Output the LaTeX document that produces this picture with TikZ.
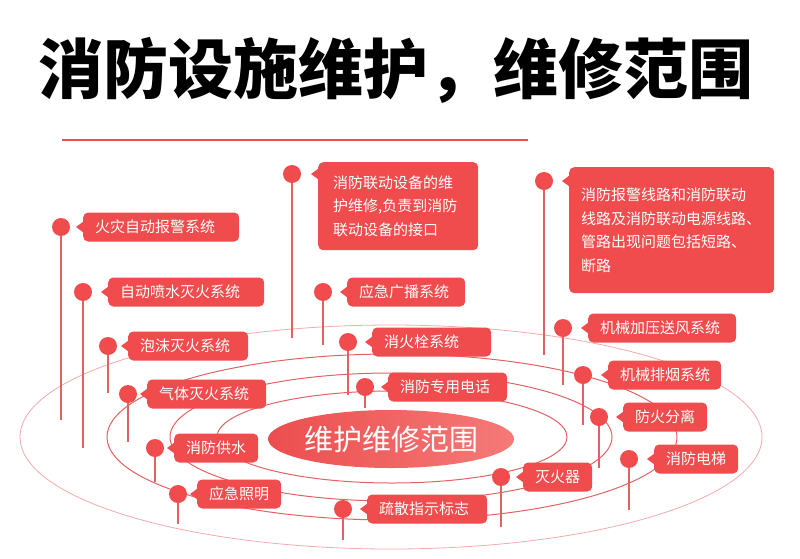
\documentclass[tikz,border=0pt]{standalone}
\usepackage{tikz}
\usepackage{xcolor}
\usepackage{fontspec}
\usetikzlibrary{shapes.geometric}
\newfontfamily\cjk{Noto Sans CJK SC}
\definecolor{tagred}{RGB}{240,76,78}
\definecolor{ringred}{RGB}{226,98,98}
\definecolor{ringpink}{RGB}{243,170,170}
\definecolor{hubleft}{RGB}{236,78,78}
\definecolor{hubright}{RGB}{245,122,120}

\begin{document}
\begin{tikzpicture}[x=1pt,y=-1pt,
    tag/.style={fill=tagred,text=white,rounded corners=5pt,font=\cjk\fontsize{15}{23.5}\selectfont,
        inner xsep=12pt,inner ysep=0pt,minimum height=29pt,align=left,anchor=west},
    dot/.style={circle,fill=tagred,minimum size=18pt,inner sep=0pt},
    stem/.style={ringred,line width=1.3pt},
    ring/.style={ringred,line width=1pt},
    hub/.style={ellipse,left color=hubleft,right color=hubright,text=white,inner sep=0pt,
        minimum width=232pt,minimum height=58pt,font=\cjk\fontsize{29}{29}\selectfont}]
    \useasboundingbox (0,0) rectangle (800,558);

    \node[font=\cjk\bfseries\fontsize{65}{65}\selectfont] (title) at (396,70) {消防设施维护，维修范围};
    \draw[tagred,line width=2pt] (62,140) -- (528,140);

    \draw[ringpink,line width=0.8pt] (391,437) ellipse (371pt and 112pt);
    \draw[ring] (392,437) ellipse (285pt and 83pt);
    \draw[ring] (391,437) ellipse (221pt and 64pt);
    \draw[ring] (392,437) ellipse (175pt and 46pt);

    \foreach \n/\x/\y/\e/\bx/\w/\t [evaluate=\w as \tw using \w-24] in {
        alarm/61/227/420/83/156/火灾自动报警系统,
        sprinkler/83/292/448/108/156/自动喷水灭火系统,
        foam/108/346/393/128/120/泡沫灭火系统,
        gas/128/394/442/147/119/气体灭火系统,
        water/155/448/482/174/84/消防供水,
        light/178/494/524/197/84/应急照明,
        broadcast/323/292/345/347/118/应急广播系统,
        hydrant/348/342/395/372/119/消火栓系统,
        phone/365/387/408/388/119/消防专用电话,
        exit/343/509/540/367/120/疏散指示标志,
        extinguisher/501/477/527/523/69/灭火器,
        pressure/563/328/385/588/148/机械加压送风系统,
        smoke/583/375/425/608/113/机械排烟系统,
        partition/599/417/468/623/84/防火分离,
        lift/629/459/510/654/84/消防电梯}
    {
        \coordinate (\n-end) at (\x,\e);
        \draw[stem] (\x,\y) -- (\n-end);
        \node[dot] (\n) at (\x,\y) {};
        \node[tag,text width=\tw pt] (\n-box) at (\bx,\y) {\t};
        \fill[tagred] (\n -| \n-box.west) ++(0.5,-5.5) -- ++(-7.5,5.5) -- ++(7.5,5.5) -- cycle;
    }

    \coordinate (link-end) at (292,338);
    \draw[stem] (292,174) -- (link-end);
    \node[dot] (link) at (292,174) {};
    \node[tag,anchor=north west,text width=130pt,inner xsep=15pt,minimum height=88pt] (link-box) at (318,162)
        {消防联动设备的维\\护维修,负责到消防\\联动设备的接口};
    \fill[tagred] (link -| link-box.west) ++(0.5,-5.5) -- ++(-7.5,5.5) -- ++(7.5,5.5) -- cycle;

    \coordinate (wire-end) at (544,355);
    \draw[stem] (544,181) -- (wire-end);
    \node[dot] (wire) at (544,181) {};
    \node[tag,anchor=north west,text width=181pt,inner xsep=12pt,minimum height=126pt] (wire-box) at (569,167)
        {消防报警线路和消防联动\\线路及消防联动电源线路、\\管路出现问题包括短路、\\断路};
    \fill[tagred] (wire -| wire-box.west) ++(0.5,-5.5) -- ++(-7.5,5.5) -- ++(7.5,5.5) -- cycle;

    \node[hub] (hub) at (391,439) {维护维修范围};
\end{tikzpicture}
\end{document}
